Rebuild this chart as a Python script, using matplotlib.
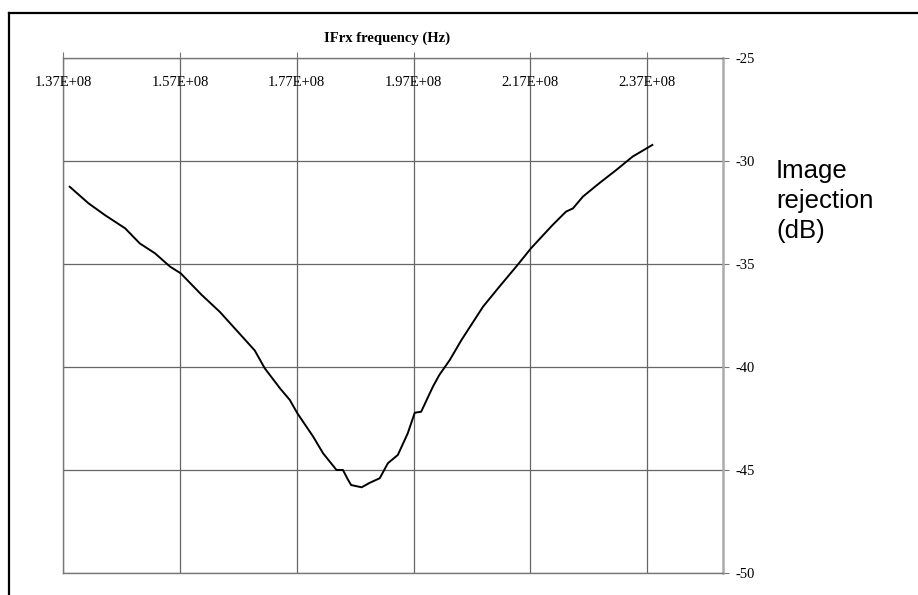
import numpy as np
import matplotlib
matplotlib.use('Agg')
import matplotlib.pyplot as plt
from matplotlib.lines import Line2D

# IF receive frequency sweep (MHz) and measured image rejection (dB)
freq_mhz = [138.1, 141.3, 144.1, 147.6, 150.1, 152.7, 155.3, 157.1, 160.7, 163.8,
            166.9, 169.8, 171.5, 174.1, 175.8, 177.1, 179.8, 181.5, 183.8, 184.9,
            185.8, 186.3, 188.1, 189.5, 191.2, 192.6, 194.3, 196.0, 197.2, 198.3,
            200.3, 201.4, 203.2, 205.2, 208.9, 211.7, 214.8, 217.1, 220.8, 223.1,
            224.3, 226.0, 228.8, 231.7, 234.5, 237.9]
rejection_db = [-31.25, -32.05, -32.62, -33.27, -34.0, -34.48, -35.13, -35.45, -36.5, -37.32,
                -38.29, -39.2, -40.06, -41.03, -41.6, -42.25, -43.38, -44.19, -45.0, -45.0,
                -45.49, -45.73, -45.84, -45.62, -45.4, -44.67, -44.27, -43.22, -42.22, -42.17,
                -40.96, -40.39, -39.66, -38.69, -37.07, -36.1, -35.05, -34.24, -33.11, -32.46,
                -32.3, -31.73, -31.08, -30.44, -29.79, -29.22]

xticks = [1.37e8, 1.57e8, 1.77e8, 1.97e8, 2.17e8, 2.37e8]
xtick_labels = ['1.37E+08', '1.57E+08', '1.77E+08', '1.97E+08', '2.17E+08', '2.37E+08']
yticks = [-25, -30, -35, -40, -45, -50]

freq = np.array(freq_mhz) * 1e6
rej = np.array(rejection_db)

serif = 'Liberation Serif'
sans = 'Liberation Sans'

fig = plt.figure(figsize=(9.18, 5.95), dpi=100)
ax = fig.add_axes([63.3 / 918, 1 - 573 / 595, (723 - 63.3) / 918, (573 - 58) / 595])

ax.plot(freq, rej, color='black', lw=1.4, zorder=3)

ax.set_xlim(1.37e8, 2.5e8)
ax.set_ylim(-50, -25)

ax.xaxis.tick_top()
ax.set_xticks(xticks)
ax.set_xticklabels([])
ax.yaxis.tick_right()
ax.set_yticks(yticks)
ax.set_yticklabels([str(v) for v in yticks], fontfamily=serif, fontsize=10.5)
ax.tick_params(axis='both', direction='out', length=4, width=0.8, color='#777777')
ax.tick_params(axis='y', pad=5)

ax.grid(True, color='#666666', lw=0.9)
ax.set_axisbelow(True)
for side, sp in ax.spines.items():
    sp.set_color('#777777')
    sp.set_linewidth(1.0)
ax.spines['right'].set_color('#aaaaaa')
ax.spines['right'].set_linewidth(1.8)

# frequency labels sit just under the top edge
for x, lab in zip(xticks, xtick_labels):
    ax.text(x, 1 - 24 / 515, lab, transform=ax.get_xaxis_transform(),
            ha='center', va='center', fontfamily=serif, fontsize=10.5)

fig.text(387 / 918, 1 - 38 / 595, 'IFrx frequency (Hz)', ha='center', va='center',
         fontfamily=serif, fontweight='bold', fontsize=10.5)

fig.text(776 / 918, 1 - 159 / 595, 'Image\nrejection\n(dB)', ha='left', va='top',
         fontfamily=sans, fontsize=18.5, linespacing=1.32)

# page frame around the chart
fig.add_artist(Line2D([9 / 918, 9 / 918], [0, 1 - 13 / 595], color='black', lw=1.6))
fig.add_artist(Line2D([9 / 918, 1], [1 - 13 / 595, 1 - 13 / 595], color='black', lw=1.6))

fig.savefig('out.png', dpi=100)
